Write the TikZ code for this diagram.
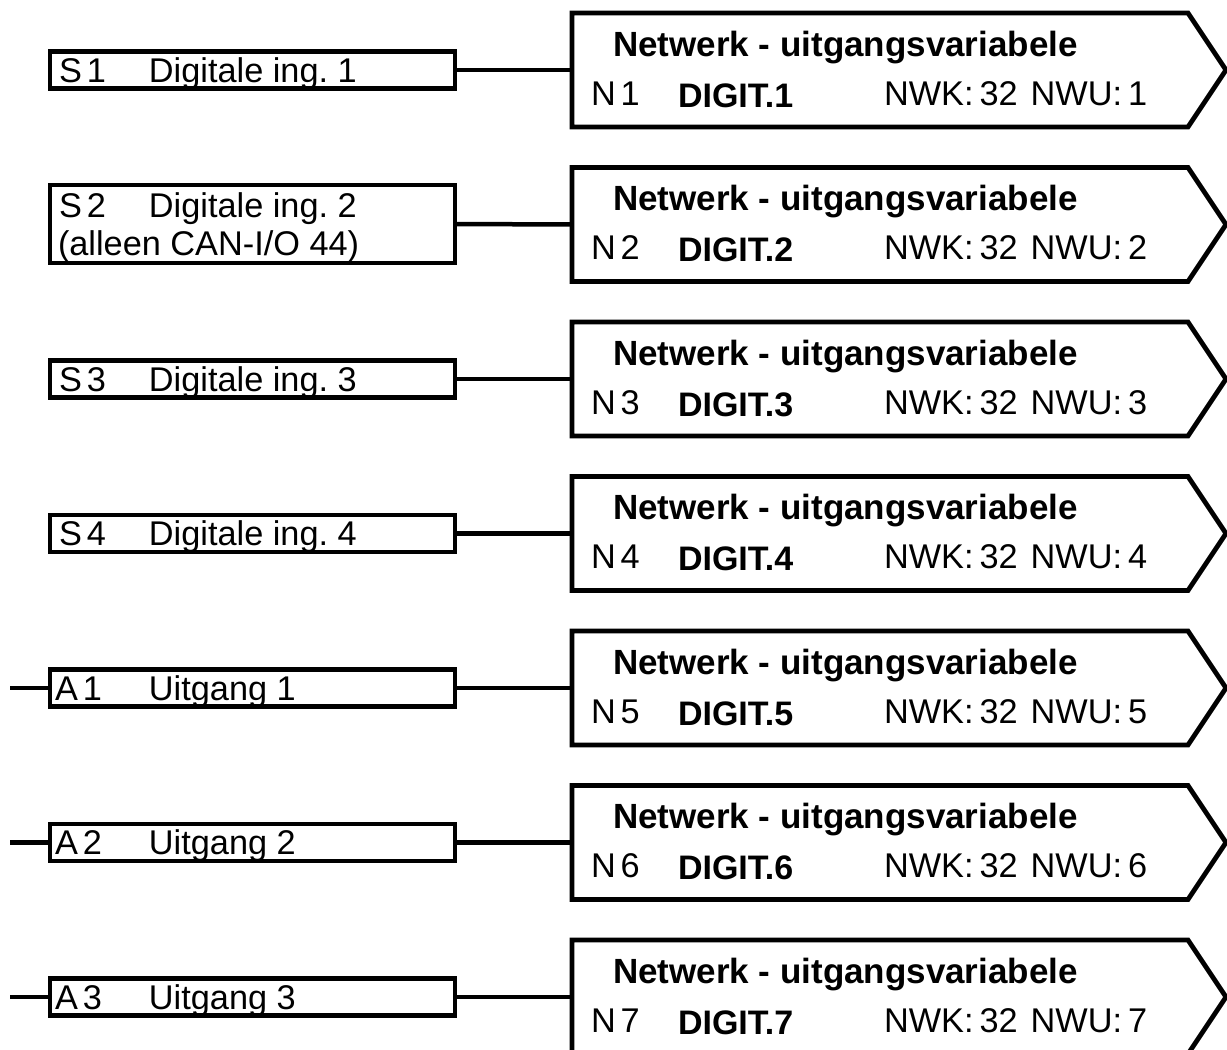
\documentclass[tikz,border=0pt]{standalone}
\usepackage{fontspec}
\setmainfont{Liberation Sans}
\usetikzlibrary{calc}
\frenchspacing
\begin{document}
\begin{tikzpicture}[x=1pt,y=-1pt,
  line width=4.8pt,
  inbox/.style={draw,line width=4.8pt,rectangle,minimum width=405pt,minimum height=37pt,inner sep=0pt,outer sep=0pt},
  netnode/.style={rectangle,minimum width=616pt,minimum height=114pt,inner sep=0pt,outer sep=0pt},
  netshape/.style={draw,line width=4.8pt,line join=miter},
  txt/.style={inner sep=0pt,outer sep=0pt,anchor=base west,font=\fontsize{34.3}{38}\selectfont},
  btxt/.style={txt,font=\fontsize{34}{38}\selectfont\bfseries},
  ttxt/.style={txt,font=\fontsize{35}{38}\selectfont\bfseries},
  wire/.style={draw,line width=4.5pt}]
\clip (0,0) rectangle (1227,1050);
% network output boxes
\foreach \i/\c in {1/70,2/224.5,3/379,4/533.5,5/688,6/842.5,7/997}{
  \node[netnode] (nw\i) at (880,\c) {};
  \draw[netshape] (nw\i.north west) -- (nw\i.north east) -- ($(nw\i.east)+(38,0)$) -- (nw\i.south east) -- (nw\i.south west) -- cycle;
  \node[ttxt] (nwt\i) at ($(nw\i.north west)+(41,43)$) {Netwerk - uitgangsvariabele};
  \node[txt] (nwn\i) at ($(nw\i.north west)+(19,92)$) {N\kern5pt\i};
  \node[btxt] (nwd\i) at ($(nw\i.north west)+(106,94)$) {DIGIT.\i};
  \node[txt] (nwk\i) at ($(nw\i.north west)+(312,92)$) {NWK:\kern6pt32\kern13pt NWU:\kern6pt\i};
}
% input boxes
\node[inbox] (s1) at (252.5,70) {};
\node[txt] (s1t) at (59,82) {\makebox[90pt][l]{S\kern5pt1}Digitale ing. 1};
\node[inbox,minimum height=78pt] (s2) at (252.5,224) {};
\node[txt] (s2t) at (59,217) {\makebox[90pt][l]{S\kern5pt2}Digitale ing. 2};
\node[txt] (s2u) at (58,255) {(alleen CAN-I/O 44)};
\node[inbox] (s3) at (252.5,379) {};
\node[txt] (s3t) at (59,391) {\makebox[90pt][l]{S\kern5pt3}Digitale ing. 3};
\node[inbox] (s4) at (252.5,533.5) {};
\node[txt] (s4t) at (59,545.5) {\makebox[90pt][l]{S\kern5pt4}Digitale ing. 4};
\node[inbox] (a1) at (252.5,688) {};
\node[txt] (a1t) at (55,700) {\makebox[94pt][l]{A\kern5pt1}Uitgang 1};
\node[inbox] (a2) at (252.5,842.5) {};
\node[txt] (a2t) at (55,854.5) {\makebox[94pt][l]{A\kern5pt2}Uitgang 2};
\node[inbox] (a3) at (252.5,997) {};
\node[txt] (a3t) at (55,1009) {\makebox[94pt][l]{A\kern5pt3}Uitgang 3};
% wires
\foreach \a/\b in {s1/nw1,s2/nw2,s3/nw3,s4/nw4,a1/nw5,a2/nw6,a3/nw7}{
  \draw[wire] (\a.east) -- (\b.west);
}
\coordinate (a1in) at (10,688);
\coordinate (a2in) at (10,842.5);
\coordinate (a3in) at (10,997);
\draw[wire] (a1in) -- (a1.west);
\draw[wire] (a2in) -- (a2.west);
\draw[wire] (a3in) -- (a3.west);
\end{tikzpicture}
\end{document}
